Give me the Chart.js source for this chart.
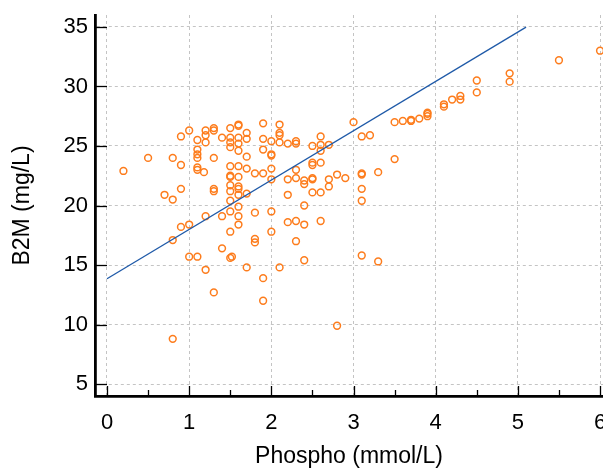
<!DOCTYPE html>
<html>
<head>
<meta charset="utf-8">
<script src="https://cdn.jsdelivr.net/npm/chart.js@4/dist/chart.umd.min.js"></script>
<style>
html, body { margin: 0; padding: 0; background: #fff; }
canvas { display: block; }
</style>
</head>
<body>
<canvas id="b2mChart" width="603" height="468"></canvas>
<script>
// =============================
// DADOS
// =============================

const phospho = [
    0.9, 1.0, 1.1, 1.2, 1.2, 1.3, 1.3, 1.2, 1.4, 1.5, 1.5, 1.5, 1.5,
    1.6, 1.6, 1.6, 1.6, 1.6, 1.7, 1.7, 1.7, 1.9, 1.9, 1.9, 2.0, 2.0, 2.0,
    2.1, 2.1, 2.1, 2.1, 2.2, 0.5, 0.8, 1.1, 1.1, 1.1, 1.3,
    0.2, 0.9, 0.7, 0.8, 0.9, 1.1, 1.1, 1.18, 1.3, 1.3, 1.5, 1.5, 1.5,
    1.6, 1.6, 1.5, 1.6, 1.6, 1.5, 1.6, 1.7, 1.5, 1.6, 1.5, 1.6, 1.6, 1.5,
    1.7, 1.8, 1.9, 2.0, 2.0, 2.2, 2.2, 2.2, 1.8, 2.0, 2.0, 1.8, 1.8,
    1.2, 1.4, 0.9, 1.0, 0.8, 1.0, 1.1, 1.4, 1.5, 1.52, 1.2, 1.7, 2.1,
    1.9, 1.3, 1.9, 0.8, 2.8,
    2.3, 2.3, 2.5, 2.6, 2.6, 2.6, 2.7, 3.0, 3.1, 3.2, 3.5, 3.6, 3.7, 3.7,
    3.8, 3.9, 3.9, 3.9, 4.1, 4.1, 4.2, 4.3, 4.3, 4.5, 4.5, 3.5, 4.9, 4.9,
    5.5, 6.0,
    2.5, 2.5, 2.6, 2.3, 2.3, 2.4, 2.4, 2.5, 2.5, 2.7, 2.7, 2.8, 2.9, 3.1,
    3.1, 3.3, 2.5, 2.6, 3.1, 3.1, 2.4, 2.3, 2.4, 2.6, 2.3, 2.4, 3.1, 3.3
]

const b2m = [
    25.8, 26.3, 25.5, 26.3, 25.9, 26.5, 26.3, 25.3, 25.7, 26.5, 25.7, 25.3, 24.9,
    26.8, 26.7, 25.7, 25.2, 24.6, 26.1, 25.6, 24.1, 26.9, 25.6, 24.7, 25.4, 24.3, 24.2,
    26.8, 26.1, 25.9, 25.3, 25.2, 24.0, 24.0, 24.7, 24.3, 24.0, 24.0,
    22.9, 23.4, 20.9, 20.5, 21.4, 23.2, 23.0, 22.8, 21.4, 21.2, 23.3, 22.5, 22.4,
    23.3, 22.4, 21.7, 21.6, 21.4, 21.2, 20.9, 21.0, 20.4, 19.9, 19.5, 19.1, 18.4, 17.8,
    23.1, 22.7, 22.7, 23.1, 22.2, 22.2, 20.9, 18.6, 19.4, 19.5, 17.8, 17.2, 16.9,
    19.1, 19.1, 18.2, 18.4, 17.1, 15.7, 15.7, 16.4, 15.6, 15.7, 14.6, 14.8, 14.8,
    13.9, 12.7, 12.0, 8.8, 9.9,
    25.2, 25.4, 25.0, 25.8, 25.1, 24.6, 25.1, 27.0, 25.8, 25.9, 27.0, 27.1, 27.2, 27.1,
    27.3, 27.8, 27.7, 27.5, 28.5, 28.3, 28.9, 29.2, 28.9, 30.5, 29.5, 23.9, 31.1, 30.4,
    32.2, 33.0,
    23.6, 23.4, 23.6, 23.0, 22.3, 22.1, 21.8, 22.3, 22.2, 22.2, 21.6, 22.6, 22.3, 22.7,
    22.6, 22.8, 21.1, 21.1, 21.4, 20.4, 20.0, 18.7, 18.4, 18.7, 17.0, 15.4, 15.8, 15.3
]

// reta de regressão (extremos)
const fitX = [0, 5.1]
const fitY = [13.85, 34.98]

const xTicks = [0, 1, 2, 3, 4, 5, 6]
const xMinorTicks = [0.5, 1.5, 2.5, 3.5, 4.5, 5.5]
const yTicks = [5, 10, 15, 20, 25, 30, 35]

const fonte = "'Liberation Sans', Arial, sans-serif"


// =============================
// TRAÇOS DOS EIXOS (para dentro)
// =============================

const marcasInternas = {
    id: "marcasInternas",
    afterDraw(chart){
        const ctx = chart.ctx
        const x = chart.scales.x
        const y = chart.scales.y
        const area = chart.chartArea

        ctx.save()
        ctx.strokeStyle = "#000"
        ctx.lineWidth = 1.3

        yTicks.forEach(v => {
            const py = Math.round(y.getPixelForValue(v)) + 0.5
            ctx.beginPath()
            ctx.moveTo(area.left, py)
            ctx.lineTo(area.left + 12, py)
            ctx.stroke()
        })

        xTicks.forEach(v => {
            const px = Math.round(x.getPixelForValue(v)) + 0.5
            ctx.beginPath()
            ctx.moveTo(px, area.bottom)
            ctx.lineTo(px, area.bottom - 10)
            ctx.stroke()
        })

        xMinorTicks.forEach(v => {
            const px = Math.round(x.getPixelForValue(v)) + 0.5
            ctx.beginPath()
            ctx.moveTo(px, area.bottom)
            ctx.lineTo(px, area.bottom - 6)
            ctx.stroke()
        })

        ctx.restore()
    }
}


// =============================
// GRÁFICO
// =============================

const pontos = phospho.map((v, i) => ({ x: v, y: b2m[i] }))
const reta = fitX.map((v, i) => ({ x: v, y: fitY[i] }))

function semPadding(s){
    s.paddingLeft = 0
    s.paddingRight = 0
    s.paddingTop = 0
    s.paddingBottom = 0
}

new Chart(document.getElementById("b2mChart").getContext("2d"), {

    type: "scatter",

    data: {
        datasets: [
            {
                label: "B2M",
                data: pontos,
                pointRadius: 3.4,
                pointBorderWidth: 1.5,
                pointBorderColor: "#fd7c1c",
                pointBackgroundColor: "rgba(255,255,255,0)",
                clip: false,
                order: 2
            },
            {
                type: "line",
                label: "Regressão",
                data: reta,
                borderColor: "#1f5aa8",
                borderWidth: 1.3,
                pointRadius: 0,
                fill: false,
                order: 1
            }
        ]
    },

    options: {
        responsive: false,
        animation: false,
        devicePixelRatio: 1,
        layout: { autoPadding: false, padding: { top: 15, right: 0, left: 0, bottom: 0 } },
        plugins: {
            legend: { display: false },
            tooltip: { enabled: false }
        },
        scales: {
            x: {
                type: "linear",
                min: -0.146,
                max: 6.036,
                afterBuildTicks: s => { s.ticks = xTicks.map(v => ({ value: v })) },
                afterFit: s => { s.height = 72; semPadding(s) },
                grid: { color: "#c4c4c4", lineWidth: 1, drawTicks: false },
                border: { display: true, color: "#000", width: 2.8, dash: [3, 3] },
                ticks: {
                    color: "#000",
                    padding: 14,
                    maxRotation: 0,
                    font: { family: fonte, size: 22 }
                },
                title: {
                    display: true,
                    text: "Phospho (mmol/L)",
                    color: "#000",
                    padding: { top: 0, bottom: 0 },
                    font: { family: fonte, size: 23, lineHeight: 1 }
                }
            },
            y: {
                type: "linear",
                min: 4,
                max: 36,
                afterBuildTicks: s => { s.ticks = yTicks.map(v => ({ value: v })) },
                afterFit: s => { s.width = 95; semPadding(s) },
                grid: { color: "#c4c4c4", lineWidth: 1, drawTicks: false },
                border: { display: true, color: "#000", width: 2.8, dash: [3, 3] },
                ticks: {
                    color: "#000",
                    padding: 7,
                    font: { family: fonte, size: 22 }
                },
                title: {
                    display: true,
                    text: "B2M (mg/L)",
                    color: "#000",
                    padding: { top: 11, bottom: 0 },
                    font: { family: fonte, size: 23, lineHeight: 1 }
                }
            }
        }
    },

    plugins: [marcasInternas]

})
</script>
</body>
</html>
